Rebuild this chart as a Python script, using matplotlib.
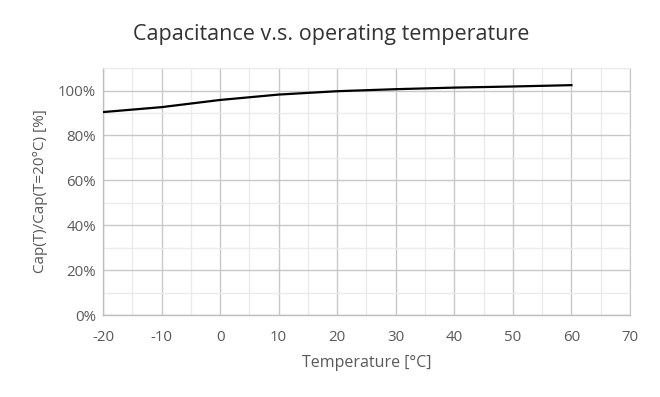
import numpy as np
import matplotlib
matplotlib.use('Agg')
import matplotlib.pyplot as plt
from matplotlib.ticker import MultipleLocator, PercentFormatter

plt.rcParams['font.family'] = ['Open Sans', 'DejaVu Sans']
plt.rcParams['axes.unicode_minus'] = False

# Cap(T)/Cap(20C)
temp = [-20, -10, 0, 10, 20, 30, 40, 50, 60]
cap_ratio = [0.904, 0.926, 0.958, 0.982, 0.997, 1.006, 1.013, 1.018, 1.024]

MAJOR = '#c8c8c8'
MINOR = '#ebebeb'
TXT = '#595959'

fig = plt.figure(figsize=(6.6, 3.97), dpi=100)
ax = fig.add_axes([0.156, 0.2065, 0.7985, 0.622])

ax.plot(temp, cap_ratio, color='black', lw=1.6, zorder=3)

ax.set_xlim(-20, 70)
ax.set_ylim(0, 1.1)
ax.xaxis.set_major_locator(MultipleLocator(10))
ax.xaxis.set_minor_locator(MultipleLocator(5))
ax.yaxis.set_major_locator(MultipleLocator(0.2))
ax.yaxis.set_minor_locator(MultipleLocator(0.1))
ax.yaxis.set_major_formatter(PercentFormatter(1.0, decimals=0))

ax.grid(which='major', color=MAJOR, lw=1.0)
ax.grid(which='minor', color=MINOR, lw=1.0)
ax.set_axisbelow(True)

ax.tick_params(which='both', length=0, colors=TXT, labelsize=10.8)
ax.tick_params(axis='x', pad=11)
ax.tick_params(axis='y', pad=5)

for s in ['left', 'bottom']:
    ax.spines[s].set_color('#bfbfbf')
    ax.spines[s].set_linewidth(1.0)
ax.spines['top'].set_color(MINOR)
ax.spines['right'].set_color(MAJOR)

ax.set_xlabel('Temperature [°C]', color=TXT, fontsize=11.5, labelpad=7)
ax.set_ylabel('Cap(T)/Cap(T=20°C) [%]', color=TXT, fontsize=11, labelpad=7)
fig.suptitle('Capacitance v.s. operating temperature', x=0.502, y=0.94,
             fontsize=15.5, color='#333333')

plt.savefig('out.png', dpi=100)
plt.close()
